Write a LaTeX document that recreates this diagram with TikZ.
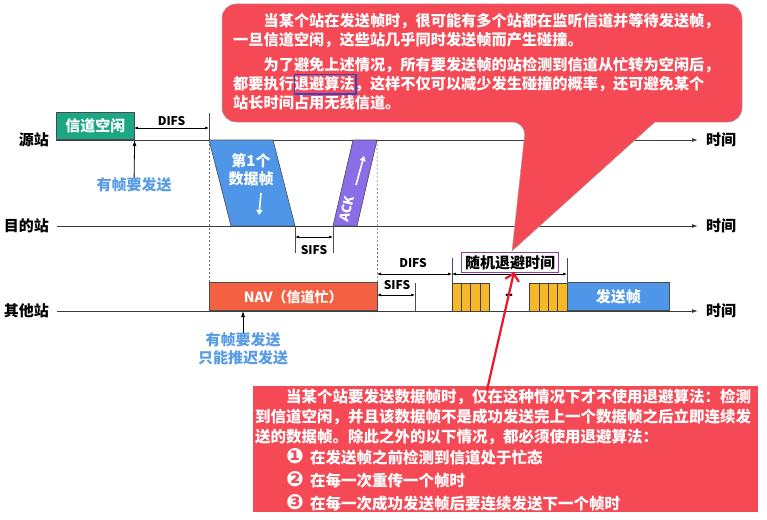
\documentclass[tikz,border=0pt]{standalone}
\usepackage{fontspec}
\setmainfont{Noto Sans CJK SC}
\newfontfamily\dejavu{DejaVu Sans}
\usepackage{tikz}
\usetikzlibrary{positioning,arrows.meta}

\definecolor{idlegreen}{RGB}{27,167,132}
\definecolor{frameblue}{RGB}{80,150,232}
\definecolor{ackpurple}{RGB}{138,110,232}
\definecolor{navred}{RGB}{244,96,66}
\definecolor{slotorange}{RGB}{246,184,40}
\definecolor{labelblue}{RGB}{88,156,228}
\definecolor{notered}{RGB}{245,74,86}
\definecolor{boxpurple}{RGB}{150,62,160}
\definecolor{hlblue}{RGB}{45,70,205}
\definecolor{arrowred}{RGB}{236,22,38}
\definecolor{axisgray}{RGB}{60,60,60}

\begin{document}
\begin{tikzpicture}[x=1pt, y=-1pt,
  station/.style={font=\fontsize{15}{15}\selectfont\bfseries, anchor=east, inner sep=1pt},
  timelabel/.style={font=\fontsize{15}{15}\selectfont\bfseries, inner sep=1pt},
  timeaxis/.style={draw=axisgray, line width=0.9pt, -{Latex[length=6pt,width=4pt]}},
  dim/.style={line width=0.6pt, {Latex[length=4pt,width=3pt]}-{Latex[length=4pt,width=3pt]}},
  dimlabel/.style={font=\fontsize{12}{12}\selectfont\bfseries, inner sep=1pt},
  tick/.style={draw=black!70, line width=0.6pt},
  guide/.style={draw=black!60, line width=0.6pt, dash pattern=on 2pt off 2pt},
  framebox/.style={draw=black!70, line width=0.6pt, minimum height=28pt, inner sep=0pt, text=white, font=\fontsize{15}{15}\selectfont\bfseries},
  whitetext/.style={text=white, font=\fontsize{15}{18}\selectfont\bfseries, align=center, inner sep=0pt},
  bluetext/.style={text=labelblue, font=\fontsize{15}{18}\selectfont\bfseries, align=center, inner sep=0pt},
  whitearrow/.style={draw=white, line width=1.6pt, -{Triangle[length=5pt,width=6pt]}},
  slot/.style={draw=black!75, fill=slotorange, line width=0.5pt},
  notetext/.style={text=white, font=\fontsize{15.2}{19}\selectfont\bfseries, align=left, inner sep=0pt, anchor=north west},
  pointer/.style={draw=black, line width=0.8pt, -{Latex[length=6pt,width=4pt]}},
]
\useasboundingbox (0,0) rectangle (767,519);

% stations and time axes
\node[station] (src) at (50,140) {源站};
\node[station] (dst) at (50,226) {目的站};
\node[station] (oth) at (50,311) {其他站};
\coordinate (srcS) at (56,140);  \coordinate (srcE) at (698,140);
\coordinate (dstS) at (57,226);  \coordinate (dstE) at (698,226);
\coordinate (othS) at (57,311);  \coordinate (othE) at (698,311);
\draw[timeaxis] (srcS) -- (srcE);
\draw[timeaxis] (dstS) -- (dstE);
\draw[timeaxis] (othS) -- (othE);
\node[timelabel, right=7pt of srcE] (srcT) {时间};
\node[timelabel, right=7pt of dstE] (dstT) {时间};
\node[timelabel, right=7pt of othE] (othT) {时间};

% source station
\node[framebox, fill=idlegreen, minimum width=78pt, minimum height=27pt, anchor=south west] (idle) at (srcS) {信道空闲};
\coordinate (t0top) at (209,113);
\coordinate (t0) at (209,140);
\draw[tick] (t0top) -- (t0);
\coordinate (difsL) at (134,128); \coordinate (difsR) at (209,128);
\draw[dim] (difsL) -- node[dimlabel, above=1pt] (difs1) {DIFS} (difsR);
\node[bluetext] (want1) at (134,185) {有帧要发送};
\draw[pointer] (want1) -- (idle.south east);

% first data frame
\coordinate (d1) at (209,140); \coordinate (d2) at (273,140);
\coordinate (d3) at (295,226); \coordinate (d4) at (231,226);
\filldraw[fill=frameblue, draw=black!70, line width=0.6pt] (d1) -- (d2) -- (d3) -- (d4) -- cycle;
\node[whitetext] (dataTxt) at (251,170) {第1个\\数据帧};
\coordinate (dA) at (261,193); \coordinate (dB) at (259,215);
\draw[whitearrow] (dA) -- (dB);

% ACK
\coordinate (a1) at (333,226); \coordinate (a2) at (357,226);
\coordinate (a3) at (377,140); \coordinate (a4) at (353,140);
\filldraw[fill=ackpurple, draw=black!70, line width=0.6pt] (a1) -- (a2) -- (a3) -- (a4) -- cycle;
\node[whitetext, font=\fontsize{13}{13}\selectfont\bfseries, rotate=77] (ackTxt) at (347,209) {ACK};
\coordinate (aA) at (356,185); \coordinate (aB) at (364,156);
\draw[whitearrow] (aA) -- (aB);

% SIFS between frame and ACK
\coordinate (sifsB1) at (295,253); \coordinate (sifsB2) at (333,253);
\draw[tick] (d3) -- (sifsB1);
\draw[tick] (a1) -- (sifsB2);
\coordinate (s1L) at (295,237); \coordinate (s1R) at (333,237);
\draw[dim] (s1L) -- (s1R);
\node[dimlabel] (sifs1) at (314,250) {SIFS};

% other stations
\node[framebox, fill=navred, minimum width=168pt, font=\fontsize{14}{14}\selectfont\bfseries, anchor=south west] (nav) at (209,311) {NAV（信道忙）};
\draw[guide] (t0) -- (nav.north west);
\draw[guide] (a3) -- (nav.north east);
\node[bluetext] (want2) at (243,349) {有帧要发送\\只能推迟发送};
\coordinate (navHit) at (243,311);
\draw[pointer] (want2) -- (navHit);

\coordinate (s2L) at (377,295); \coordinate (s2R) at (415,295);
\coordinate (s2T) at (415,283); \coordinate (s2B) at (415,311);
\draw[tick] (s2T) -- (s2B);
\draw[dim] (s2L) -- (s2R);
\node[dimlabel] (sifs2) at (397,285) {SIFS};

\coordinate (f2L) at (377,274); \coordinate (f2R) at (452,274);
\draw[dim] (f2L) -- (f2R);
\node[dimlabel] (difs2) at (413,263) {DIFS};

% backoff slots
\foreach \i in {0,...,3}
  \draw[slot] ({452+9.25*\i},283) rectangle ++(9.25,28);
\foreach \i in {0,...,3}
  \draw[slot] ({529.5+9.4*\i},283) rectangle ++(9.4,28);
\node[inner sep=0pt, font=\fontsize{12}{12}\selectfont\bfseries] (dots) at (509,295) {..};
\coordinate (bkT) at (452,258); \coordinate (bkB) at (452,283);
\coordinate (bkT2) at (567,258); \coordinate (bkB2) at (567,283);
\draw[tick] (bkT) -- (bkB);
\draw[tick] (bkT2) -- (bkB2);
\coordinate (bkL) at (452,274); \coordinate (bkR) at (567,274);
\draw[dim] (bkL) -- (bkR);
\node[draw=boxpurple, line width=1.6pt, inner sep=1pt, minimum width=97pt, minimum height=20pt,
      font=\fontsize{15}{15}\selectfont\bfseries] (backoff) at (510,262.5) {随机退避时间};
\node[framebox, fill=frameblue, minimum width=102pt, anchor=south west] (send) at (567,311) {发送帧};

% top callout
\coordinate (tailL) at (526,122); \coordinate (tailR) at (655,122); \coordinate (tailTip) at (512,251);
\filldraw[fill=notered, draw=black!35, line width=0.5pt] (tailR) [rounded corners=14pt] -- (742,122) -- (742,4)
  -- (222,4) -- (222,122) -- (tailL) [sharp corners] -- (tailTip) -- cycle;
\node[notetext] (topNote) at (233,13.5) {\hspace*{2em}当某个站在发送帧时，很可能有多个站都在监听信道并等待发送帧，\\
一旦信道空闲，这些站几乎同时发送帧而产生碰撞。\\[6pt]
\hspace*{2em}为了避免上述情况，所有要发送帧的站检测到信道从忙转为空闲后，\\
都要执行退避算法，这样不仅可以减少发生碰撞的概率，还可避免某个\\
站长时间占用无线信道。};
\draw[hlblue, line width=1.8pt] (294.5,74.5) rectangle (356,94); % marks the term

% bottom callout
\node[fill=notered, minimum width=505pt, minimum height=126pt, inner sep=0pt, anchor=north west] (bottomBox) at (253,386) {};
\node[notetext, font=\fontsize{15.5}{20}\selectfont\bfseries] (bottomNote) at (255,389) {\hspace*{2em}当某个站要发送数据帧时，仅在这种情况下才不使用退避算法：检测\\
到信道空闲，并且该数据帧不是成功发送完上一个数据帧之后立即连续发\\
送的数据帧。除此之外的以下情况，都必须使用退避算法：\\[1pt]
\hspace*{2em}\smash{\dejavu\fontsize{21}{21}\selectfont ❶}\hspace{0.4em}在发送帧之前检测到信道处于忙态\\[2.5pt]
\hspace*{2em}\smash{\dejavu\fontsize{21}{21}\selectfont ❷}\hspace{0.4em}在每一次重传一个帧时\\[3.5pt]
\hspace*{2em}\smash{\dejavu\fontsize{21}{21}\selectfont ❸}\hspace{0.4em}在每一次成功发送帧后要连续发送下一个帧时};

% red pointer to the backoff time
\coordinate (redS) at (487,390); \coordinate (redT) at (514,272);
\draw[arrowred, line width=2.2pt, -{Straight Barb[length=7pt,width=14pt]}] (redS) -- (redT);
\end{tikzpicture}
\end{document}
